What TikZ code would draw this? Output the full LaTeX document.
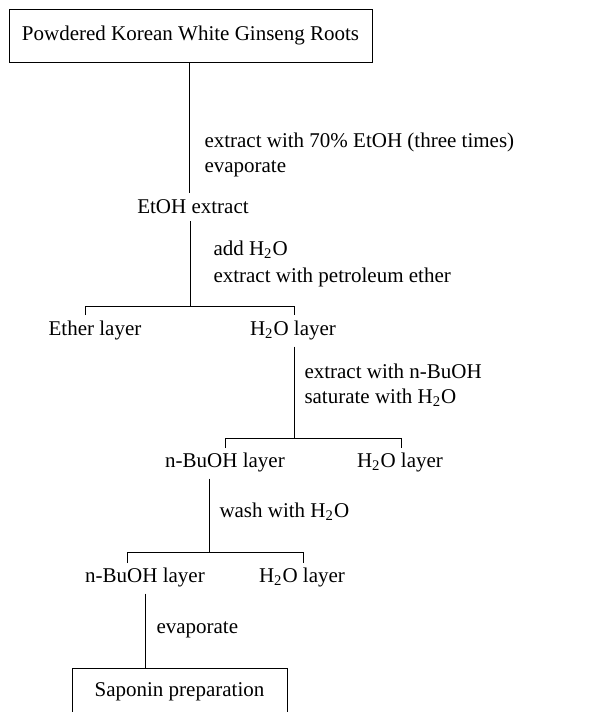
\documentclass[tikz,border=0pt]{standalone}
\usepackage{fontspec}
\setmainfont{Liberation Serif}
\newcommand{\water}{H\textsubscript{2}O}
\begin{document}
\begin{tikzpicture}
	[x=0.5pt, y=-0.5pt, line width=0.5pt, font=\fontsize{10.5}{12.5}\selectfont,
	box/.style={draw, inner sep=0pt},
	note/.style={anchor=west, align=left, inner sep=0pt}]
	\useasboundingbox (0,0) rectangle (594,712);
	\node[box, minimum width=181.5pt, minimum height=26.5pt] (root) at (190.5,35.5) {Powdered Korean White Ginseng Roots};
	\node (etoh) at (193,207) {EtOH extract};
	\node (ether) at (95,330) {Ether layer};
	\node (wa) at (293,330) {\water{} layer};
	\node (bua) at (225,462) {n-BuOH layer};
	\node (wb) at (400,462) {\water{} layer};
	\node (bub) at (145,577) {n-BuOH layer};
	\node (wc) at (302,577) {\water{} layer};
	% box runs off the bottom of the page
	\node[box, minimum width=107.5pt, minimum height=24pt] (sap) at (179.5,692) {Saponin preparation};
	% split points
	\coordinate (sa) at (190,306);
	\coordinate (sal) at (85,306);
	\coordinate (sar) at (294,306);
	\coordinate (sb) at (294,438);
	\coordinate (sbl) at (225,438);
	\coordinate (sbr) at (401,438);
	\coordinate (sc) at (209,552);
	\coordinate (scl) at (127,552);
	\coordinate (scr) at (303,552);
	\draw (root.south -| 189,0) -- (etoh.north -| 189,0);
	\draw (etoh.south -| sa) -- (sa);
	\draw ([yshift=-4.5pt]sal) -- (sal) -- (sar) -- ([yshift=-4.5pt]sar);
	\draw (wa.south -| sb) -- (sb);
	\draw ([yshift=-5pt]sbl) -- (sbl) -- (sbr) -- ([yshift=-5pt]sbr);
	\draw (bua.south -| sc) -- (sc);
	\draw ([yshift=-5.5pt]scl) -- (scl) -- (scr) -- ([yshift=-5.5pt]scr);
	\draw (bub.south) -- (sap.north -| bub);
	% labels
	\node[note] (la) at (204,155) {extract with 70\% EtOH (three times)\\evaporate};
	\node[note] (lb) at (213,264) {add \water\\[1pt]extract with petroleum ether};
	\node[note] (lc) at (304,385) {extract with n-BuOH\\saturate with \water};
	\node[note] (ld) at (219,512) {wash with \water};
	\node[note] (le) at (156,630) {evaporate};
\end{tikzpicture}
\end{document}
